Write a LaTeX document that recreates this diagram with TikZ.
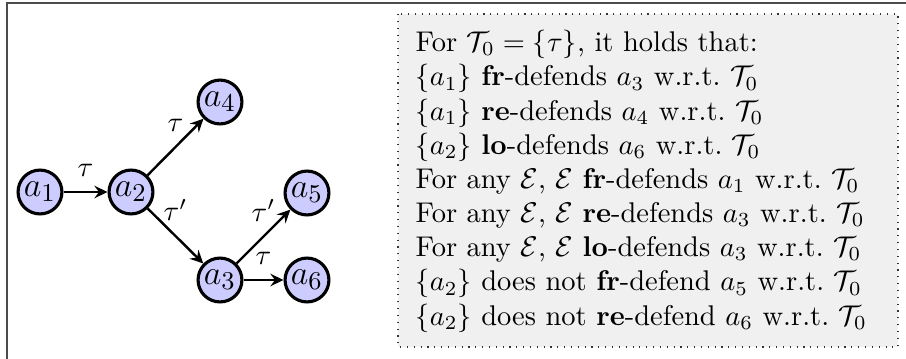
\documentclass[tikz,border=0pt]{standalone}
\usetikzlibrary{arrows.meta}
\begin{document}
\begin{tikzpicture}[x=0.351pt,y=-0.351pt,
  arg/.style={circle,draw=black,line width=1.1pt,fill=blue!20,minimum size=15.4pt,inner sep=0pt,font=\fontsize{13}{15}\selectfont},
  att/.style={-{Stealth[length=4.6pt,width=4.4pt,inset=1.6pt]},line width=0.85pt},
  lbl/.style={above=2pt,inner sep=3pt},
  txt/.style={anchor=base west,inner sep=0pt}]
\clip (0,0) rectangle (906,358);
\useasboundingbox (0,0) rectangle (906,358);
\draw[gray!60!black,line width=0.7pt] (6.7,370) -- (6.7,2.7) -- (920,2.7);
\draw[fill=black!6,dotted,draw=black!80] (398,14) rectangle (898,347);
% graph
\node[arg] (a1) at (40,192) {$a_1$};
\node[arg] (a2) at (131,192) {$a_2$};
\node[arg] (a4) at (220,102) {$a_4$};
\node[arg] (a3) at (220,280) {$a_3$};
\node[arg] (a5) at (307,193) {$a_5$};
\node[arg] (a6) at (307,280) {$a_6$};
\draw[att] (a1) -- node[lbl] {$\tau$} (a2);
\draw[att] (a2) -- node[lbl] {$\tau$} (a4);
\draw[att] (a2) -- node[lbl] {$\tau'$} (a3);
\draw[att] (a3) -- node[lbl] {$\tau'$} (a5);
\draw[att] (a3) -- node[lbl] {$\tau$} (a6);
% text
\node[txt] (t1) at (415,51.7) {For $\mathcal{T}_0=\{\tau\}$, it holds that:};
\node[txt] (t2) at (415,85.9) {$\{a_1\}$ \textbf{fr}-defends $a_3$ w.r.t.\ $\mathcal{T}_0$};
\node[txt] (t3) at (415,120.0) {$\{a_1\}$ \textbf{re}-defends $a_4$ w.r.t.\ $\mathcal{T}_0$};
\node[txt] (t4) at (415,154.2) {$\{a_2\}$ \textbf{lo}-defends $a_6$ w.r.t.\ $\mathcal{T}_0$};
\node[txt] (t5) at (415,188.3) {For any $\mathcal{E}$, $\mathcal{E}$ \textbf{fr}-defends $a_1$ w.r.t.\ $\mathcal{T}_0$};
\node[txt] (t6) at (415,222.5) {For any $\mathcal{E}$, $\mathcal{E}$ \textbf{re}-defends $a_3$ w.r.t.\ $\mathcal{T}_0$};
\node[txt] (t7) at (415,256.7) {For any $\mathcal{E}$, $\mathcal{E}$ \textbf{lo}-defends $a_3$ w.r.t.\ $\mathcal{T}_0$};
\node[txt] (t8) at (415,290.8) {$\{a_2\}$ does not \textbf{fr}-defend $a_5$ w.r.t.\ $\mathcal{T}_0$};
\node[txt] (t9) at (415,325.0) {$\{a_2\}$ does not \textbf{re}-defend $a_6$ w.r.t.\ $\mathcal{T}_0$};
\end{tikzpicture}
\end{document}
